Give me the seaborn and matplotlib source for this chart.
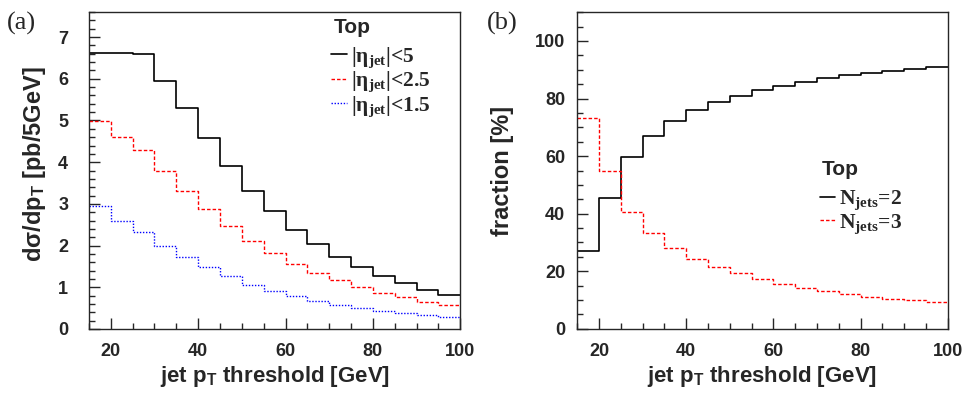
"""Jet pT threshold dependence: cross section and jet multiplicity fractions."""

import matplotlib.pyplot as plt
from matplotlib.ticker import MultipleLocator
import seaborn as sns
import numpy as np

# bins of the jet pT threshold [GeV]
pt_edges = [15, 20, 25, 30, 35, 40, 45, 50, 55, 60, 65, 70, 75, 80, 85, 90, 95, 100]
pt_low = pt_edges[:-1]

# (a) dsigma/dpT [pb/5GeV] for three eta cuts
xs_eta5 = [6.62, 6.61, 6.60, 5.95, 5.29, 4.59, 3.92, 3.31, 2.82, 2.38, 2.04,
           1.73, 1.48, 1.27, 1.09, 0.94, 0.81]
xs_eta25 = [4.99, 4.60, 4.30, 3.79, 3.32, 2.88, 2.47, 2.12, 1.81, 1.55, 1.34,
            1.17, 1.00, 0.86, 0.76, 0.65, 0.57]
xs_eta15 = [2.95, 2.60, 2.33, 2.00, 1.72, 1.48, 1.26, 1.06, 0.90, 0.78, 0.66,
            0.57, 0.50, 0.44, 0.38, 0.33, 0.29]

# (b) fraction [%] of events with 2 and 3 jets
frac_2jets = [27.1, 45.3, 59.6, 66.9, 72.1, 75.9, 78.8, 81.0, 82.8, 84.4, 85.9,
              87.2, 88.3, 88.9, 89.7, 90.4, 91.1]
frac_3jets = [73.2, 54.8, 40.7, 33.4, 28.1, 24.3, 21.4, 19.3, 17.4, 15.7, 14.3,
              13.0, 12.0, 11.2, 10.4, 9.9, 9.3]

sns.set_style('ticks')
plt.rcParams['font.family'] = ['Liberation Sans', 'DejaVu Sans']
plt.rcParams['font.weight'] = 'bold'
plt.rcParams['axes.labelweight'] = 'bold'
plt.rcParams['mathtext.fontset'] = 'custom'
plt.rcParams['mathtext.it'] = 'Liberation Serif:bold'
plt.rcParams['mathtext.rm'] = 'Liberation Serif:bold'
plt.rcParams['mathtext.sf'] = 'Liberation Sans:bold'

legend_prop = {'family': 'Liberation Serif', 'weight': 'bold', 'size': 15.5}


def draw_hist(ax, values, color, ls, lw, label):
    sns.histplot(x=pt_low, weights=values, bins=pt_edges, element='step',
                 fill=False, color=color, linestyle=ls, linewidth=lw,
                 label=label, ax=ax)


def style_axis(ax, ymax, ymajor, yminor, ypad):
    ax.set_xlim(15, 100)
    ax.set_ylim(0, ymax)
    ax.xaxis.set_major_locator(MultipleLocator(20))
    ax.xaxis.set_minor_locator(MultipleLocator(5))
    ax.yaxis.set_major_locator(MultipleLocator(ymajor))
    ax.yaxis.set_minor_locator(MultipleLocator(yminor))
    ax.tick_params(which='both', direction='in', top=False, right=False,
                   width=1, labelsize=13)
    ax.tick_params(which='major', length=8)
    ax.tick_params(which='minor', length=4.5)
    ax.tick_params(axis='x', pad=10)
    ax.tick_params(axis='y', pad=ypad)
    for sp in ax.spines.values():
        sp.set_visible(True)
        sp.set_linewidth(1)
    ax.set_xlabel(r'jet p$_\mathsf{T}$ threshold [GeV]', fontsize=16)
    ax.xaxis.set_label_coords(0.5, -0.11)


def add_legend(ax, x, y_title, y_entries, spacing):
    ax.text(x, y_title, 'Top', transform=ax.transAxes, va='top', ha='left',
            fontsize=15, weight='bold')
    ax.legend(loc='upper left', bbox_to_anchor=(x - 0.005, y_entries),
              frameon=False, prop=legend_prop, handlelength=0.7,
              handletextpad=0.2, labelspacing=spacing, borderpad=0,
              borderaxespad=0)


fig = plt.figure(figsize=(9.67, 4.05), dpi=100)
ax1 = fig.add_axes([0.092, 0.188, 0.384, 0.782])
ax2 = fig.add_axes([0.597, 0.188, 0.383, 0.782])

# (a)
draw_hist(ax1, xs_eta5, 'black', '-', 1.2, r'|η$_{jet}$|<5')
draw_hist(ax1, xs_eta25, 'red', (0, (2.5, 1.5)), 1.0, r'|η$_{jet}$|<2.5')
draw_hist(ax1, xs_eta15, 'blue', (0, (1, 1.2)), 1.0, r'|η$_{jet}$|<1.5')
style_axis(ax1, 7.6, 1, 0.2, 15)
ax1.set_ylabel(r'dσ/dp$_\mathsf{T}$ [pb/5GeV]', fontsize=17)
ax1.yaxis.set_label_coords(-0.11, 0.52)
add_legend(ax1, 0.658, 0.981, 0.896, 0.0)

# (b)
draw_hist(ax2, frac_2jets, 'black', '-', 1.2, r'N$_{jets}$=2')
draw_hist(ax2, frac_3jets, 'red', (0, (2.5, 1.5)), 1.0, r'N$_{jets}$=3')
style_axis(ax2, 110, 20, 5, 8.6)
ax2.set_ylabel('fraction [%]', fontsize=17)
ax2.yaxis.set_label_coords(-0.17, 0.5)
add_legend(ax2, 0.66, 0.533, 0.442, 0.0)

fig.text(0.007, 0.97, '(a)', family='Liberation Serif', weight='normal',
         fontsize=19, va='top')
fig.text(0.503, 0.97, '(b)', family='Liberation Serif', weight='normal',
         fontsize=19, va='top')

fig.savefig('out.png', dpi=100)
